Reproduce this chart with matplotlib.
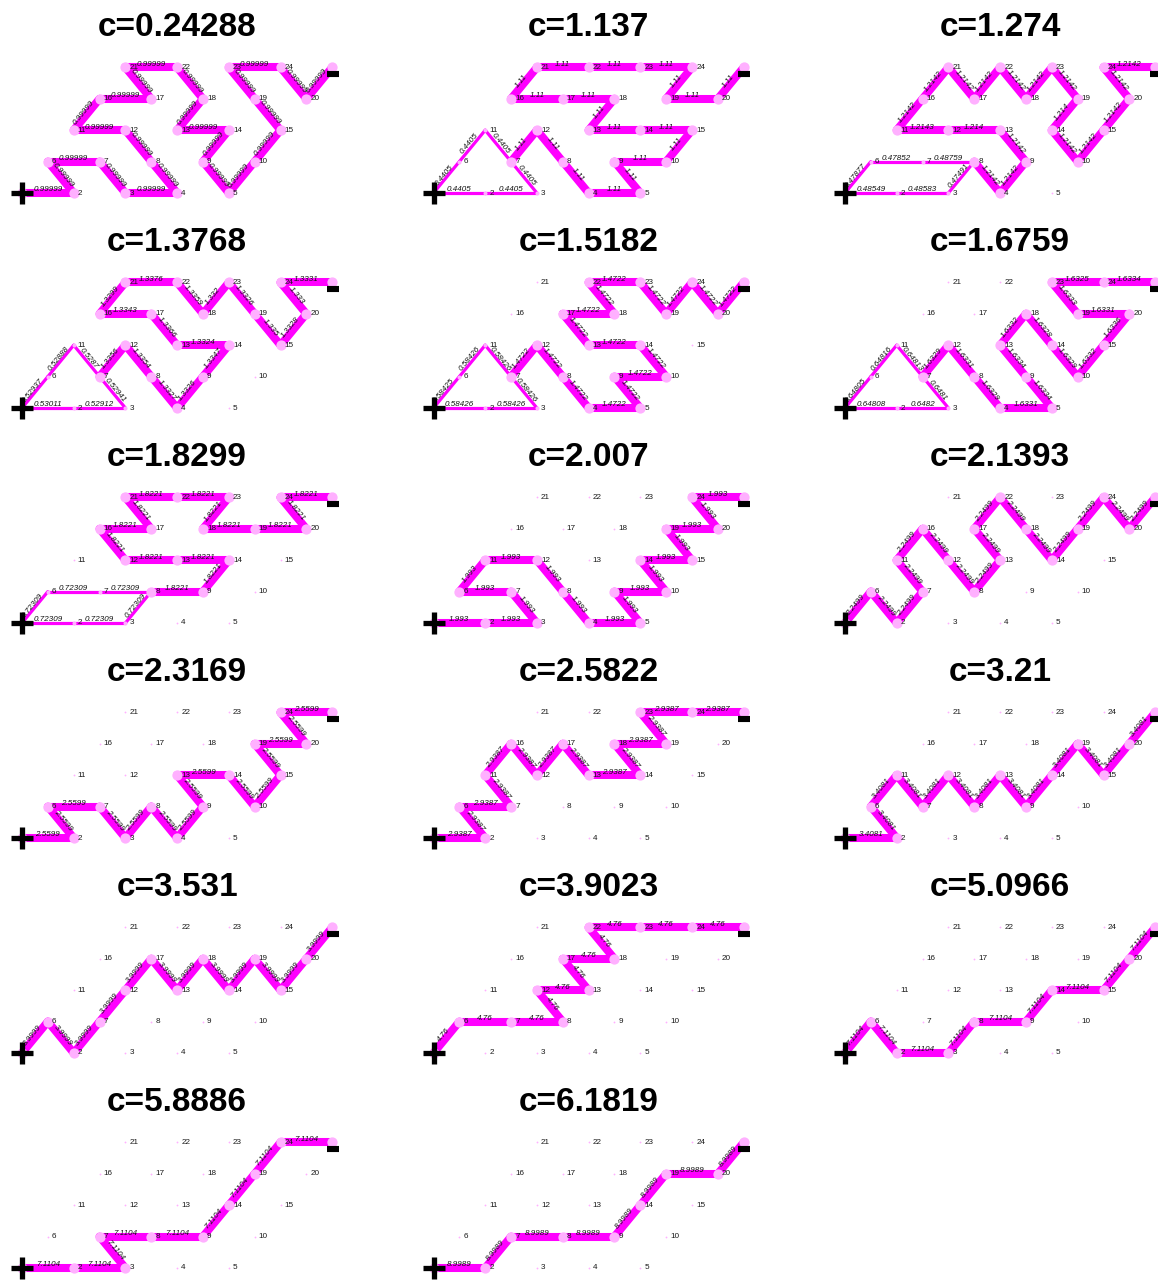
import numpy as np
import matplotlib.pyplot as plt
from matplotlib import transforms

plt.rcParams['font.family'] = ['Liberation Sans', 'DejaVu Sans']

c_values = ["0.24288", "1.137", "1.274", "1.3768", "1.5182", "1.6759",
            "1.8299", "2.007", "2.1393", "2.3169", "2.5822", "3.21",
            "3.531", "3.9023", "5.0966", "5.8886", "6.1819"]

# every network is a list of (node path, current); one number means the
# whole path carries that current, a list gives it edge by edge.
# node 1 is the source (+), node 25 the sink (-)
net_01 = [([1, 2, 6, 7, 3, 4, 8, 12, 11, 16, 17, 21, 22, 18, 13, 14, 9, 5,
            10, 15, 19, 23, 24, 20, 25], 0.99999)]
net_02 = [([1, 2, 3, 7], 0.4405),
          ([1, 6, 11, 7], 0.4405),
          ([7, 12, 8, 4, 5, 9, 10, 15, 14, 13, 18, 17, 16, 21, 22, 23, 24, 19,
            20, 25], 1.11)]
net_03 = [([1, 6, 7, 8], [0.47877, 0.47852, 0.48759]),
          ([1, 2, 3, 8], [0.48549, 0.48583, 0.47491]),
          ([8, 4, 9, 13, 12, 11, 16, 21, 17, 22, 18, 23, 19, 14, 10, 15, 20,
            24, 25],
           [1.2142, 1.2142, 1.2142, 1.214, 1.2143, 1.2142, 1.2142, 1.2142,
            1.2142, 1.2142, 1.2142, 1.2142, 1.214, 1.2142, 1.2142, 1.2142,
            1.2142, 1.2142])]
net_04 = [([1, 6, 11, 7], [0.52937, 0.52888, 0.5287]),
          ([1, 2, 3, 7], [0.53011, 0.52912, 0.52941]),
          ([7, 12, 8, 4, 9, 14, 13, 17, 16, 21, 22, 18, 23, 19, 15, 20, 24,
            25],
           [1.3356, 1.3354, 1.3327, 1.3326, 1.3347, 1.3324, 1.3366, 1.3343,
            1.3299, 1.3376, 1.3359, 1.332, 1.3326, 1.335, 1.3328, 1.333,
            1.3331])]
net_05 = [([1, 6, 11, 7], [0.58425, 0.58426, 0.58426]),
          ([1, 2, 3, 7], [0.58426, 0.58426, 0.58426]),
          ([7, 12, 8, 4, 5, 9, 10, 14, 13, 17, 18, 22, 23, 19, 24, 20, 25],
           1.4722)]
net_06 = [([1, 6, 11, 7], [0.64805, 0.64816, 0.64813]),
          ([1, 2, 3, 7], [0.64808, 0.6482, 0.6481]),
          ([7, 12, 8, 4, 5, 9, 13, 18, 14, 10, 15, 20, 19, 23, 24, 25],
           [1.6329, 1.6331, 1.6329, 1.6331, 1.6334, 1.6334, 1.6332, 1.6328,
            1.6329, 1.6332, 1.6336, 1.6331, 1.6333, 1.6325, 1.6334])]
net_07 = [([1, 6, 7, 8], 0.72309),
          ([1, 2, 3, 8], 0.72309),
          ([8, 9, 14, 13, 12, 16, 17, 21, 22, 23, 18, 19, 20, 24, 25], 1.8221)]
net_08 = [([1, 2, 3, 7, 6, 11, 12, 8, 4, 5, 9, 10, 14, 15, 19, 20, 24, 25],
           1.993)]
net_09 = [([1, 6, 2, 7, 11, 16, 12, 8, 13, 17, 22, 18, 14, 19, 24, 20, 25],
           2.2499)]
net_10 = [([1, 2, 6, 7, 3, 8, 4, 9, 13, 14, 10, 15, 19, 20, 24, 25], 2.5599)]
net_11 = [([1, 2, 6, 7, 11, 16, 12, 17, 13, 14, 18, 19, 23, 24, 25], 2.9387)]
net_12 = [([1, 2, 6, 11, 7, 12, 8, 13, 9, 14, 19, 15, 20, 25], 3.4081)]
net_13 = [([1, 6, 2, 7, 12, 17, 13, 18, 14, 19, 15, 20, 25], 3.9999)]
net_14 = [([1, 6, 7, 8, 12, 13, 17, 18, 22, 23, 24, 25], 4.76)]
net_15 = [([1, 6, 2, 3, 8, 9, 14, 15, 20, 25], 7.1104)]
net_16 = [([1, 2, 3, 7, 8, 9, 14, 19, 24, 25], 7.1104)]
net_17 = [([1, 2, 7, 8, 9, 14, 19, 20, 25], 8.9989)]

networks = [net_01, net_02, net_03, net_04, net_05, net_06, net_07, net_08,
            net_09, net_10, net_11, net_12, net_13, net_14, net_15, net_16,
            net_17]

N_SIDE = 5
EDGE_COLOR = '#ff00ff'
NODE_COLOR = '#ffb0ff'
EDGE_LW = 5.8
NODE_MS = 7.4

W, H = 1158, 1281
SX, SY = 51.7, 31.4          # pixels per lattice step
X0, DX = 22, 411.5
Y0, DY = 193, 215
XLIM = (-0.45, 6.45)
YLIM = (-0.6, 4.45)


def node_xy(k):
    r, c = divmod(k - 1, N_SIDE)
    return c + 0.5 * r, r


def edge_currents(net):
    edges = {}
    for path, cur in net:
        if np.isscalar(cur):
            cur = [cur] * (len(path) - 1)
        for a, b, i in zip(path[:-1], path[1:], cur):
            edges[(a, b)] = i
    return edges


fig = plt.figure(figsize=(W / 100, H / 100), dpi=100)

for idx, net in enumerate(networks):
    row, col = divmod(idx, 3)
    ox = X0 + DX * col
    oy = Y0 + DY * row
    left = ox + XLIM[0] * SX
    right = ox + XLIM[1] * SX
    bottom = oy - YLIM[0] * SY
    top = oy - YLIM[1] * SY
    ax = fig.add_axes([left / W, 1 - bottom / H, (right - left) / W,
                       (bottom - top) / H])
    ax.set_xlim(XLIM)
    ax.set_ylim(YLIM)
    ax.axis('off')

    edges = edge_currents(net)
    imax = max(edges.values())
    through = {}
    for (a, b), i in edges.items():
        through[a] = max(through.get(a, 0), i)
        through[b] = max(through.get(b, 0), i)
        xa, ya = node_xy(a)
        xb, yb = node_xy(b)
        ax.plot([xa, xb], [ya, yb], color=EDGE_COLOR, lw=EDGE_LW * i / imax,
                solid_capstyle='round', zorder=1)

    for k in range(1, N_SIDE * N_SIDE + 1):
        x, y = node_xy(k)
        ms = max(1.3, NODE_MS * through.get(k, 0) / imax)
        ax.plot(x, y, 'o', ms=ms, color=NODE_COLOR, mec='none', zorder=2)
        if 1 < k < N_SIDE * N_SIDE:
            ax.annotate(str(k), (x, y), xytext=(3, 0), textcoords='offset points',
                        ha='left', va='center', fontsize=5.9, color='#1a1a1a',
                        zorder=3)

    # current labels follow the edge direction on screen
    for (a, b), i in edges.items():
        p = ax.transData.transform([node_xy(a), node_xy(b)])
        d = p[1] - p[0]
        if d[0] < 0 or (d[0] == 0 and d[1] < 0):
            d = -d
        ang = np.arctan2(d[1], d[0])
        mx, my = np.mean([node_xy(a), node_xy(b)], axis=0)
        ax.annotate(f'{i:.5g}', (mx, my),
                    xytext=(-2.3 * np.sin(ang), 2.3 * np.cos(ang)),
                    textcoords='offset points', rotation=np.degrees(ang),
                    rotation_mode='anchor', ha='center', va='center',
                    fontsize=5.8, style='italic', color='#111111', zorder=4)

    sx, sy = node_xy(1)
    ax.plot(sx, sy, marker='+', ms=16, mew=3.8, color='k', zorder=5)
    tx, ty = node_xy(N_SIDE * N_SIDE)
    shift = transforms.offset_copy(ax.transData, fig=fig, x=0.5, y=-5,
                                   units='points')
    ax.plot(tx, ty, marker='_', ms=9, mew=4.4, color='k', zorder=5,
            transform=shift, clip_on=False)

    fig.text((ox + 3 * SX) / W, 1 - (36 + DY * row) / H, f'c={c_values[idx]}',
             ha='center', va='baseline', fontsize=24, fontweight='bold')

fig.savefig('out.png', dpi=100)
